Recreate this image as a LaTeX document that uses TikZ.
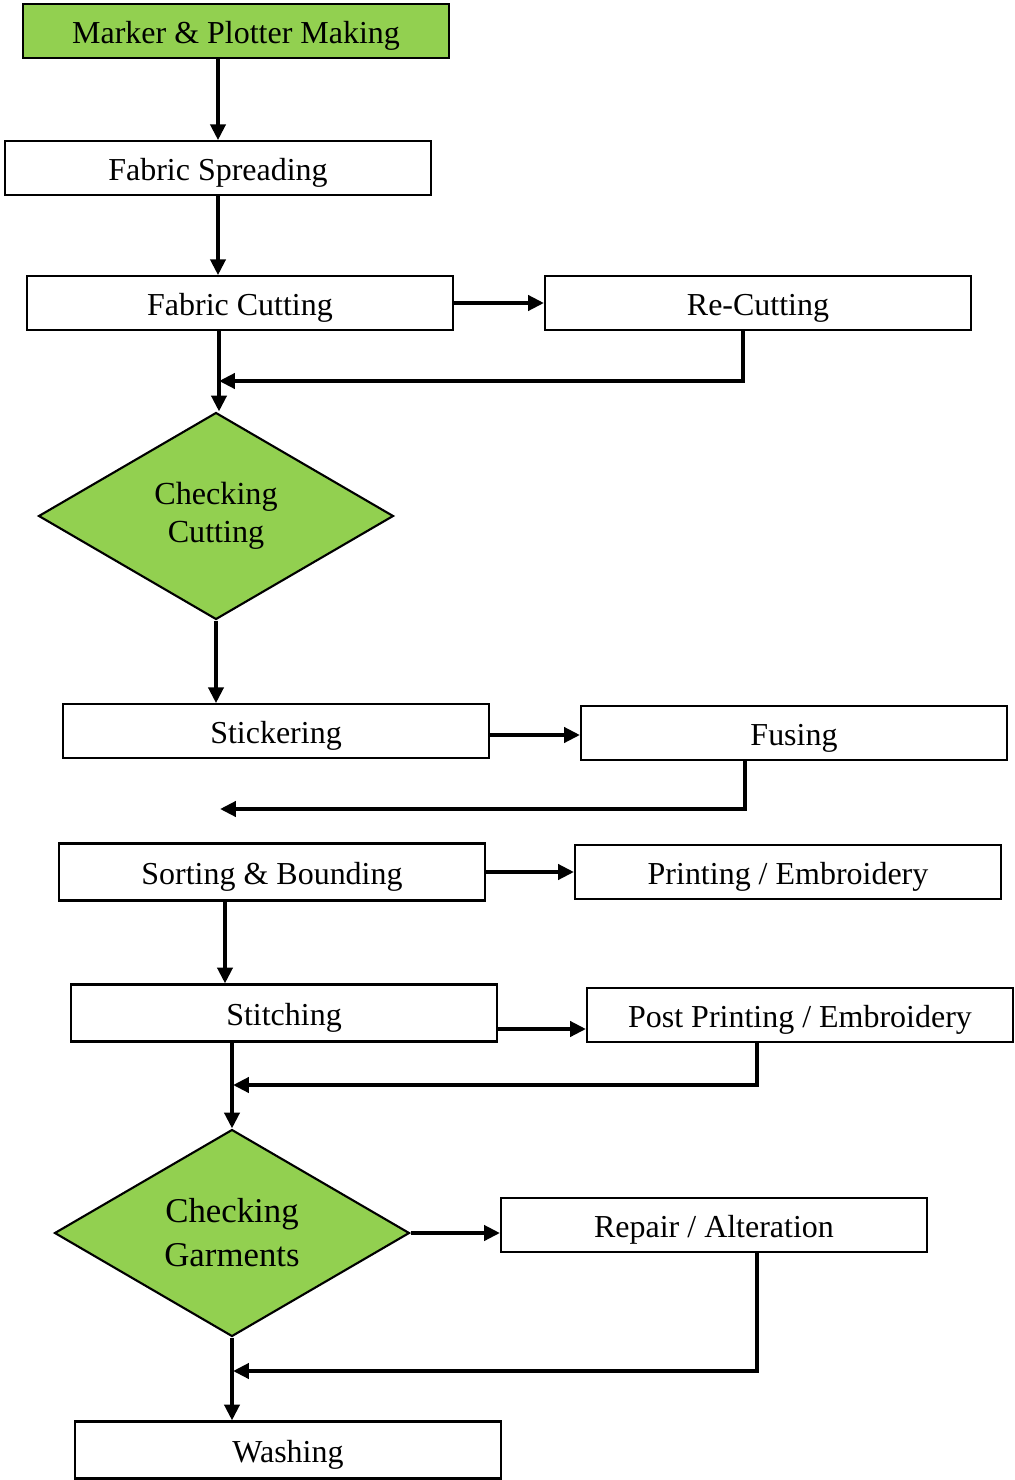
\documentclass[tikz,border=0pt]{standalone}
\usepackage{fontspec}
\setmainfont{Liberation Serif}
\usetikzlibrary{shapes.geometric,arrows.meta,calc}
\definecolor{leafgreen}{HTML}{92D050}

\begin{document}
\begin{tikzpicture}[x=0.02cm,y=-0.02cm,
    box/.style={draw,line width=1.2pt,minimum width=8.52cm,minimum height=1.07cm,inner sep=0pt,text height=17pt,text depth=2.5pt,font=\fontsize{18.2}{21}\selectfont},
    check/.style={diamond,draw,line width=1.2pt,fill=leafgreen,minimum width=7.1cm,minimum height=4.14cm,inner sep=0pt,align=center},
    arr/.style={line width=2.2pt,-{Triangle[length=9pt,width=8.5pt]}}]
    \useasboundingbox (0,0) rectangle (1014,1480);
    % main column
    \node[box,fill=leafgreen] (marker) at (236,31) {Marker \& Plotter Making};
    \node[box] (spread) at (218,168) {Fabric Spreading};
    \node[box] (cutting) at (240,303) {Fabric Cutting};
    \node[box] (recut) at (758,303) {Re-Cutting};
    \node[check,font=\fontsize{18.3}{21.5}\selectfont] (chkcut) at (216,516) {Checking\\Cutting};
    \node[box] (stick) at (276,731) {Stickering};
    \node[box] (fusing) at (794,733) {Fusing};
    \node[box,minimum height=1.14cm] (sorting) at (272,872) {Sorting \& Bounding};
    \node[box] (printing) at (788,872) {Printing / Embroidery};
    \node[box,minimum height=1.14cm] (stitch) at (284,1013) {Stitching};
    \node[box] (post) at (800,1015) {Post Printing / Embroidery};
    \node[check,font=\fontsize{19.8}{25}\selectfont] (chkgar) at (232,1233) {Checking\\Garments};
    \node[box] (repair) at (714,1225) {Repair / Alteration};
    \node[box,minimum height=1.14cm] (wash) at (288,1450) {Washing};
    % joints of the return lines
    \coordinate (m1) at (219,381);
    \coordinate (m2) at (220,809);
    \coordinate (m3) at (233,1085);
    \coordinate (m4) at (233,1371);
    \coordinate (s1) at ($(stick.east)+(0,4)$);
    \coordinate (s2) at ($(stitch.east)+(0,16)$);
    % connectors
    \draw[arr] (spread.north |- marker.south) -- (spread.north);
    \draw[arr] (spread.south) -- (spread.south |- cutting.north);
    \draw[arr] (cutting.east) -- (recut.west);
    \draw[arr] ($(recut.south)+(-15,0)$) |- (m1);
    \draw[arr] (m1 |- cutting.south) -- (m1 |- chkcut.north);
    \draw[arr] (chkcut.south) -- (chkcut.south |- stick.north);
    \draw[arr] (s1) -- (s1 -| fusing.west);
    \draw[arr] ($(fusing.south)+(-49,0)$) |- (m2);
    \draw[arr] (sorting.east) -- (sorting.east -| printing.west);
    \draw[arr] (225,0 |- sorting.south) -- (225,0 |- stitch.north);
    \draw[arr] (s2) -- (s2 -| post.west);
    \draw[arr] ($(post.south)+(-43,0)$) |- (m3);
    \draw[arr] (chkgar.north |- stitch.south) -- (chkgar.north);
    \draw[arr] (chkgar.east) -- (chkgar.east -| repair.west);
    \draw[arr] ($(repair.south)+(43,0)$) |- (m4);
    \draw[arr] (chkgar.south) -- (chkgar.south |- wash.north);
\end{tikzpicture}
\end{document}
